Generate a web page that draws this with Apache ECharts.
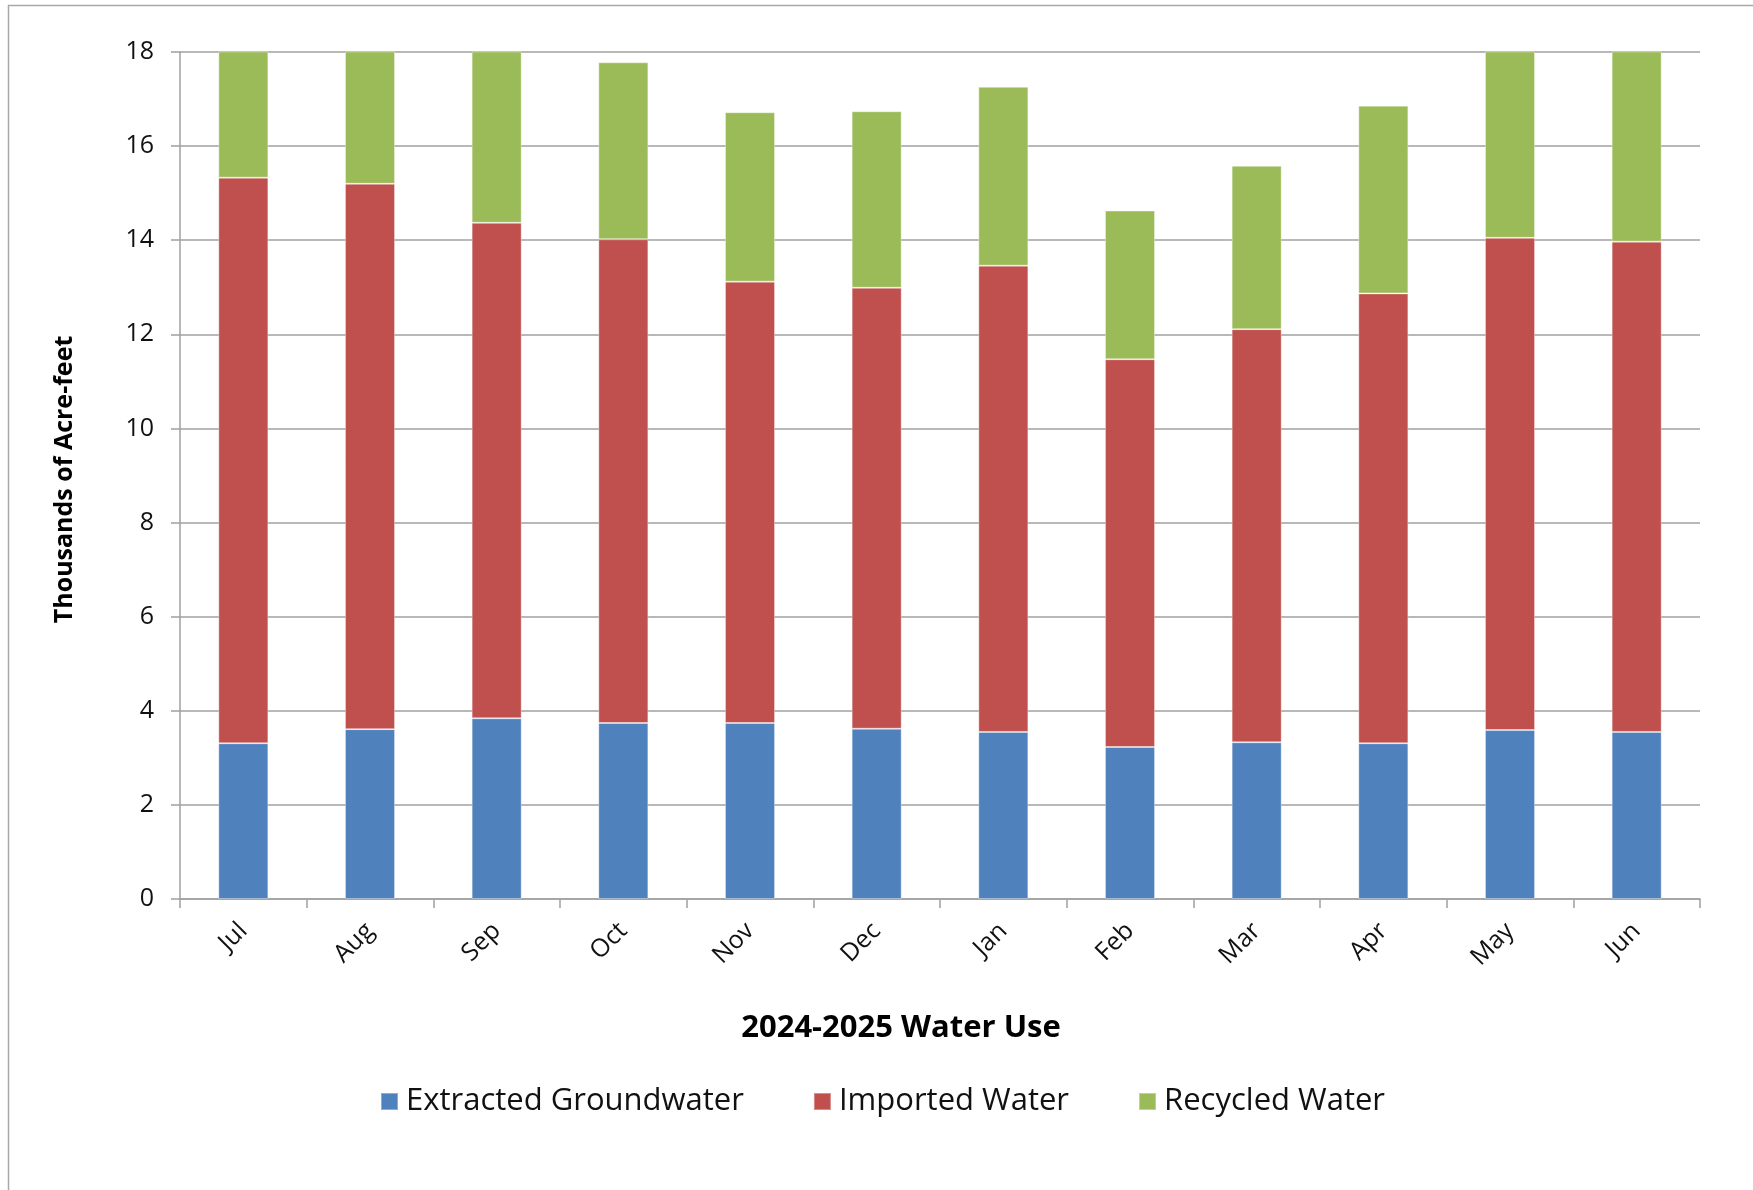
<!DOCTYPE html>
<html>
<head>
<meta charset="utf-8">
<script src="https://cdn.jsdelivr.net/npm/echarts@6/dist/echarts.min.js"></script>
<style>
html,body{margin:0;padding:0;background:#fff;}
#chart{width:1753px;height:1190px;}
</style>
</head>
<body>
<div id="chart"></div>
<script>
const months = ['Jul','Aug','Sep','Oct','Nov','Dec','Jan','Feb','Mar','Apr','May','Jun'];
const groundwater = [3.31, 3.61, 3.84, 3.74, 3.74, 3.62, 3.55, 3.23, 3.33, 3.31, 3.59, 3.55];
const imported    = [12.02, 11.59, 10.53, 10.28, 9.38, 9.37, 9.91, 8.24, 8.78, 9.56, 10.46, 10.42];
const recycled    = [4.4, 4.5, 4.3, 3.76, 3.60, 3.75, 3.80, 3.16, 3.47, 3.99, 4.1, 4.3];
const yTicks = [0, 2, 4, 6, 8, 10, 12, 14, 16, 18];
const seriesNames = ['Extracted Groundwater', 'Imported Water', 'Recycled Water'];
const xTitle = '2024-2025 Water Use';
const yTitle = 'Thousands of Acre-feet';

const FONT = '"Open Sans", Lato, sans-serif';
const chart = echarts.init(document.getElementById('chart'), null, {renderer: 'canvas'});

function barSeries(name, data, color) {
  return {
    name: name,
    type: 'bar',
    stack: 'total',
    data: data,
    barWidth: '39.5%',
    clip: true,
    itemStyle: {color: color, borderColor: 'rgba(255,255,255,0.35)', borderWidth: 1},
    emphasis: {disabled: true}
  };
}

chart.setOption({
  animation: false,
  backgroundColor: '#ffffff',
  textStyle: {fontFamily: FONT},
  grid: {left: 180, right: 53, top: 52, bottom: 291, containLabel: false},
  legend: {
    left: 380,
    top: 1086,
    padding: 0,
    itemWidth: 17,
    itemHeight: 17,
    itemGap: 69,
    icon: 'rect',
    data: seriesNames,
    textStyle: {fontFamily: FONT, fontSize: 31, color: '#111', padding: [0, 0, 0, 3]}
  },
  graphic: [
    {
      type: 'rect',
      shape: {x: 8.5, y: 5.5, width: 1800, height: 1300},
      style: {fill: 'none', stroke: '#a8a8a8', lineWidth: 1.5},
      silent: true
    },
    {
      type: 'text',
      x: 901,
      y: 1028,
      style: {text: xTitle, font: 'bold 31px ' + FONT, fill: '#000', textAlign: 'center', textVerticalAlign: 'middle'}
    }
  ],
  xAxis: {
    type: 'category',
    data: months,
    boundaryGap: true,
    axisLine: {show: true, lineStyle: {color: '#a0a0a0', width: 1.5}},
    axisTick: {show: true, length: 9, alignWithLabel: false, lineStyle: {color: '#a0a0a0', width: 1.5}},
    axisLabel: {rotate: 45, fontSize: 25, color: '#111', margin: 28, fontFamily: FONT, interval: 0}
  },
  yAxis: {
    type: 'value',
    min: 0,
    max: 18,
    interval: 2,
    name: yTitle,
    nameLocation: 'middle',
    nameGap: 103,
    nameTextStyle: {fontSize: 25, fontWeight: 'bold', color: '#000', fontFamily: FONT, padding: [0, 8, 0, 0]},
    axisLine: {show: true, lineStyle: {color: '#a0a0a0', width: 1.5}},
    axisTick: {show: true, length: 9, lineStyle: {color: '#a0a0a0', width: 1.5}},
    axisLabel: {fontSize: 25, color: '#111', margin: 26, fontFamily: FONT,
      formatter: v => yTicks.includes(v) ? String(v) : ''},
    splitLine: {show: true, lineStyle: {color: '#a0a0a0', width: 1.5}}
  },
  series: [
    barSeries(seriesNames[0], groundwater, '#4F81BD'),
    barSeries(seriesNames[1], imported, '#C0504D'),
    barSeries(seriesNames[2], recycled, '#9BBB59')
  ]
});
</script>
</body>
</html>
